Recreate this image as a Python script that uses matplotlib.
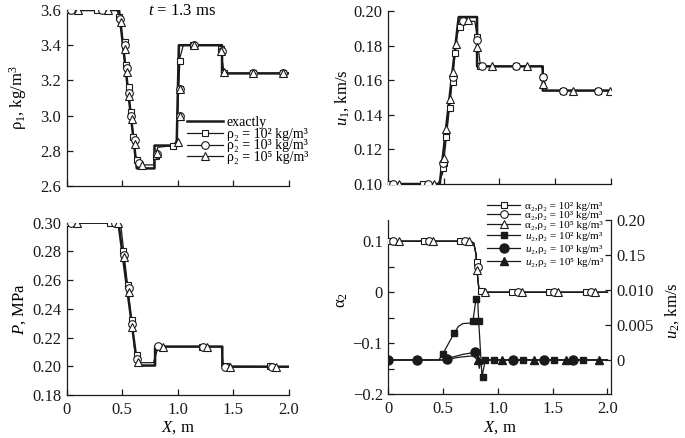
import matplotlib
matplotlib.use("Agg")
import matplotlib.pyplot as plt
from matplotlib.lines import Line2D

plt.rcParams['font.family'] = ['Liberation Serif', 'DejaVu Serif']
plt.rcParams['mathtext.fontset'] = 'custom'
plt.rcParams['mathtext.rm'] = 'Liberation Serif'
plt.rcParams['mathtext.it'] = 'Liberation Serif:italic'
plt.rcParams['mathtext.bf'] = 'Liberation Serif:bold'

# ---- rho1 panel ----
rho_exact_x = [0, 0.47, 0.63, 0.79, 0.79, 0.99, 1.01, 1.40, 1.40, 2.0]
rho_exact_y = [3.6, 3.6, 2.70, 2.70, 2.83, 2.83, 3.40, 3.40, 3.24, 3.24]
rho_num_x = [0, 0.45, 0.48, 0.62, 0.66, 0.78, 0.80, 0.82, 0.96, 0.99, 1.02, 1.05, 1.38, 1.40, 1.42, 2.0]
rho_num_y = [3.6, 3.6, 3.55, 2.76, 2.72, 2.72, 2.78, 2.82, 2.83, 2.86, 3.33, 3.40, 3.40, 3.32, 3.24, 3.24]
rho_sq_x = [0, 0.27, 0.47, 0.52, 0.535, 0.556, 0.577, 0.60, 0.63, 0.80, 0.96, 1.02, 1.02, 1.02, 1.14, 1.39, 1.42, 1.68, 1.95]
rho_sq_y = [3.6, 3.6, 3.56, 3.42, 3.29, 3.16, 3.02, 2.88, 2.75, 2.77, 2.83, 2.99, 3.15, 3.31, 3.40, 3.38, 3.24, 3.24, 3.24]
rho_ci_x = [0.04, 0.32, 0.48, 0.525, 0.54, 0.56, 0.58, 0.61, 0.65, 0.81, 1.02, 1.02, 1.15, 1.40, 1.68, 1.95]
rho_ci_y = [3.6, 3.6, 3.55, 3.40, 3.27, 3.13, 3.00, 2.86, 2.73, 2.78, 3.00, 3.15, 3.40, 3.37, 3.24, 3.24]
rho_tr_x = [0.10, 0.37, 0.49, 0.52, 0.54, 0.56, 0.585, 0.61, 0.68, 0.81, 1.00, 1.02, 1.02, 1.15, 1.39, 1.42, 1.68, 1.95]
rho_tr_y = [3.6, 3.6, 3.53, 3.38, 3.25, 3.11, 2.98, 2.84, 2.72, 2.79, 2.85, 3.00, 3.15, 3.40, 3.37, 3.25, 3.24, 3.24]

# ---- u1 panel ----
u1_exact_x = [0, 0.465, 0.635, 0.80, 0.80, 1.39, 1.39, 2.0]
u1_exact_y = [0.10, 0.10, 0.1965, 0.1965, 0.168, 0.168, 0.154, 0.154]
u1_num_x = [0, 0.45, 0.49, 0.62, 0.66, 0.78, 0.80, 0.83, 1.38, 1.40, 1.42, 2.0]
u1_num_y = [0.10, 0.10, 0.106, 0.186, 0.194, 0.194, 0.186, 0.168, 0.168, 0.162, 0.154, 0.154]
u1_sq_x = [0, 0.315, 0.49, 0.50, 0.525, 0.555, 0.58, 0.605, 0.645, 0.80, 0.83, 1.15, 1.39, 1.57, 1.89]
u1_sq_y = [0.10, 0.10, 0.109, 0.112, 0.127, 0.144, 0.159, 0.176, 0.191, 0.185, 0.168, 0.168, 0.162, 0.154, 0.154]
u1_ci_x = [0.045, 0.36, 0.495, 0.585, 0.67, 0.80, 0.84, 1.15, 1.39, 1.57, 1.89]
u1_ci_y = [0.10, 0.10, 0.112, 0.162, 0.194, 0.183, 0.168, 0.168, 0.162, 0.154, 0.154]
u1_tr_x = [0.10, 0.41, 0.50, 0.525, 0.555, 0.585, 0.61, 0.72, 0.80, 0.93, 1.245, 1.39, 1.665, 1.99]
u1_tr_y = [0.10, 0.10, 0.115, 0.132, 0.149, 0.165, 0.181, 0.1948, 0.179, 0.168, 0.168, 0.158, 0.154, 0.154]

# ---- P panel ----
p_exact_x = [0, 0.465, 0.635, 0.795, 0.795, 1.40, 1.40, 2.0]
p_exact_y = [0.30, 0.30, 0.2005, 0.2005, 0.2137, 0.2137, 0.1997, 0.1997]
p_num_x = [0, 0.44, 0.49, 0.62, 0.66, 0.78, 0.81, 0.83, 1.39, 1.41, 2.0]
p_num_y = [0.30, 0.30, 0.296, 0.206, 0.2025, 0.2025, 0.210, 0.2137, 0.2137, 0.2000, 0.1997]
p_sq_x = [0, 0.39, 0.51, 0.555, 0.585, 0.63, 0.825, 1.215, 1.43, 1.825]
p_sq_y = [0.30, 0.30, 0.2805, 0.2566, 0.2322, 0.2078, 0.2137, 0.2137, 0.200, 0.200]
p_ci_x = [0.04, 0.435, 0.516, 0.558, 0.588, 0.636, 0.825, 1.23, 1.425, 1.845]
p_ci_y = [0.30, 0.30, 0.2775, 0.2543, 0.2295, 0.2048, 0.214, 0.2137, 0.1997, 0.1997]
p_tr_x = [0.096, 0.465, 0.516, 0.558, 0.59, 0.645, 0.87, 1.265, 1.47, 1.883]
p_tr_y = [0.30, 0.30, 0.276, 0.2515, 0.2276, 0.2032, 0.2137, 0.2137, 0.1997, 0.1997]

# ---- alpha2 / u2 panel ----
a2_x = [0, 0.75, 0.78, 0.80, 0.815, 0.83, 2.0]
a2_y = [0.1, 0.1, 0.096, 0.075, 0.03, 0.0, 0.0]
a2_sq_x = [0, 0.33, 0.65, 0.81, 0.85, 1.13, 1.47, 1.80]
a2_sq_y = [0.1, 0.1, 0.1, 0.06, 0.003, 0, 0, 0]
a2_ci_x = [0.045, 0.37, 0.70, 0.82, 1.18, 1.51, 1.85]
a2_ci_y = [0.1, 0.1, 0.1, 0.05, 0, 0, 0]
a2_tr_x = [0.10, 0.41, 0.74, 0.81, 0.88, 1.22, 1.55, 1.89]
a2_tr_y = [0.1, 0.1, 0.1, 0.044, 0, 0, 0, 0]

u2_sq_line_x = [0, 0.46, 0.495, 0.60, 0.64, 0.68, 0.77, 0.80, 0.815, 0.825, 0.855, 0.885, 2.0]
u2_sq_line_y = [0, 0, 0.0008, 0.0038, 0.0048, 0.0052, 0.0053, 0.0087, 0.0087, 0.0055, -0.0024, 0, 0]
u2_ci_line_x = [0, 0.50, 0.56, 0.68, 0.795, 0.815, 0.83, 0.845, 2.0]
u2_ci_line_y = [0, 0, 0.0003, 0.0008, 0.0011, 0.0002, -0.0012, 0, 0]
u2_tr_line_x = [0, 0.50, 0.65, 0.78, 0.81, 2.0]
u2_tr_line_y = [0, 0, 0.0004, 0.0006, 0, 0]
u2_sq_x = [0, 0.495, 0.60, 0.774, 0.80, 0.825, 0.86, 0.885, 0.96, 1.23, 1.515, 1.78]
u2_sq_y = [0, 0.0008, 0.0038, 0.0055, 0.0087, 0.0055, -0.0024, 0, 0, 0, 0, 0]
u2_ci_x = [0, 0.265, 0.54, 0.795, 1.14, 1.42, 1.69]
u2_ci_y = [0, 0, 0.0001, 0.0011, 0, 0, 0]
u2_tr_x = [0.82, 1.04, 1.33, 1.62, 1.92]
u2_tr_y = [0, 0, 0, 0, 0]

x_ticks = [0, 0.5, 1.0, 1.5, 2.0]
x_labels = ['0', '0.5', '1.0', '1.5', '2.0']
u2_ticks = [0, 0.005, 0.010, 0.015, 0.020]
u2_labels = ['0', '0.005', '0.010', '0.15', '0.20']

lab_rho = ['ρ₂ = 10² kg/m³', 'ρ₂ = 10³ kg/m³', 'ρ₂ = 10⁵ kg/m³']
lab_a2 = ['α₂,ρ₂ = 10² kg/m³', 'α₂,ρ₂ = 10³ kg/m³', 'α₂,ρ₂ = 10⁵ kg/m³']
lab_u2 = ['$u$₂,ρ₂ = 10² kg/m³', '$u$₂,ρ₂ = 10³ kg/m³', '$u$₂,ρ₂ = 10⁵ kg/m³']

K = '#1a1a1a'
TS = 12
LS = 12
open_mk = [dict(marker='s', ms=5), dict(marker='o', ms=5.5), dict(marker='^', ms=5.5)]


def style(ax, spines):
    for s in ['top', 'right', 'left', 'bottom']:
        ax.spines[s].set_visible(s in spines)
        ax.spines[s].set_color(K)
        ax.spines[s].set_linewidth(0.9)
    ax.tick_params(direction='in', length=4, width=0.9, colors=K, labelsize=TS,
                   top=False, right=False, pad=4)
    ax.set_xlim(0, 2.0)
    ax.set_xticks(x_ticks)


def draw_panel(ax, ex, ey, nx, ny, marks):
    ax.plot(ex, ey, color=K, lw=1.8, zorder=2)
    ax.plot(nx, ny, color=K, lw=0.9, zorder=2)
    for (mx, my), mk in zip(marks, open_mk):
        ax.plot(mx, my, ls='none', mfc='white', mec=K, mew=0.8, zorder=3, **mk)


def ylab(ax, text, x, y=0.5):
    ax.set_ylabel(text, fontsize=LS)
    ax.yaxis.label.set_va('center')
    ax.yaxis.set_label_coords(x, y)


def xlab(ax, text, y):
    ax.set_xlabel(text, fontsize=LS)
    ax.xaxis.label.set_va('center')
    ax.xaxis.set_label_coords(0.5, y)


fig = plt.figure(figsize=(6.85, 4.38), dpi=100)

# top-left: rho1
ax1 = fig.add_axes([0.0978, 0.5753, 0.3234, 0.4018])
style(ax1, ['left', 'bottom'])
draw_panel(ax1, rho_exact_x, rho_exact_y, rho_num_x, rho_num_y,
           [(rho_sq_x, rho_sq_y), (rho_ci_x, rho_ci_y), (rho_tr_x, rho_tr_y)])
ax1.set_ylim(2.6, 3.6)
ax1.set_yticks([2.6, 2.8, 3.0, 3.2, 3.4, 3.6])
ax1.set_yticklabels(['2.6', '2.8', '3.0', '3.2', '3.4', '3.6'])
ax1.tick_params(labelbottom=False)
ylab(ax1, 'ρ$_1$, kg/m$^3$', -0.22)
h1 = [Line2D([], [], color=K, lw=1.8)]
for mk in open_mk:
    h1.append(Line2D([], [], color=K, lw=0.9, mfc='white', mec=K, mew=0.8, **mk))
ax1.legend(h1, ['exactly'] + lab_rho, loc='upper left', bbox_to_anchor=(0.54, 0.40),
           frameon=False, fontsize=10, labelspacing=-0.08, handlelength=2.6,
           handletextpad=0.3, borderpad=0, borderaxespad=0)
fig.text(182 / 685, 1 - 11 / 438, '$t$ = 1.3 ms', ha='center', va='center', fontsize=12)

# top-right: u1
ax2 = fig.add_axes([0.5664, 0.5799, 0.3251, 0.3950])
style(ax2, ['left', 'bottom'])
draw_panel(ax2, u1_exact_x, u1_exact_y, u1_num_x, u1_num_y,
           [(u1_sq_x, u1_sq_y), (u1_ci_x, u1_ci_y), (u1_tr_x, u1_tr_y)])
ax2.set_ylim(0.10, 0.20)
ax2.set_yticks([0.10, 0.12, 0.14, 0.16, 0.18, 0.20])
ax2.set_yticklabels(['0.10', '0.12', '0.14', '0.16', '0.18', '0.20'])
ax2.tick_params(labelbottom=False)
ylab(ax2, '$u_1$, km/s', -0.205)

# bottom-left: P
ax3 = fig.add_axes([0.0974, 0.0982, 0.3245, 0.3934])
style(ax3, ['left', 'bottom'])
draw_panel(ax3, p_exact_x, p_exact_y, p_num_x, p_num_y,
           [(p_sq_x, p_sq_y), (p_ci_x, p_ci_y), (p_tr_x, p_tr_y)])
ax3.set_ylim(0.18, 0.30)
ax3.set_yticks([0.18, 0.20, 0.22, 0.24, 0.26, 0.28, 0.30])
ax3.set_yticklabels(['0.18', '0.20', '0.22', '0.24', '0.26', '0.28', '0.30'])
ax3.set_xticklabels(x_labels)
ax3.tick_params(axis='x', pad=5)
ylab(ax3, '$P$, MPa', -0.21)
xlab(ax3, '$X$, m', -0.19)

# bottom-right: alpha2 and u2
ax4 = fig.add_axes([0.5669, 0.0998, 0.3247, 0.3980])
style(ax4, ['left', 'bottom'])
ax4.set_xlim(0, 2.03)
ax4r = ax4.twinx()
for s in ['top', 'left', 'bottom']:
    ax4r.spines[s].set_visible(False)
ax4r.spines['right'].set_color(K)
ax4r.spines['right'].set_linewidth(0.9)
ax4r.tick_params(direction='in', length=4, width=0.9, colors=K, labelsize=TS, pad=4)

ha = []
for (mx, my), mk in zip([(a2_sq_x, a2_sq_y), (a2_ci_x, a2_ci_y), (a2_tr_x, a2_tr_y)], open_mk):
    ax4.plot(a2_x, a2_y, color=K, lw=0.9, zorder=2)
    ax4.plot(mx, my, ls='none', mfc='white', mec=K, mew=0.8, zorder=3, **mk)
    ha.append(Line2D([], [], color=K, lw=0.9, mfc='white', mec=K, mew=0.8, **mk))
filled_mk = [dict(marker='s', ms=5), dict(marker='o', ms=6.5), dict(marker='^', ms=6)]
u2_lines = [(u2_sq_line_x, u2_sq_line_y), (u2_ci_line_x, u2_ci_line_y), (u2_tr_line_x, u2_tr_line_y)]
u2_marks = [(u2_sq_x, u2_sq_y), (u2_ci_x, u2_ci_y), (u2_tr_x, u2_tr_y)]
for (lx, ly), (mx, my), mk in zip(u2_lines, u2_marks, filled_mk):
    ax4r.plot(lx, ly, color=K, lw=0.9, zorder=2)
    ax4r.plot(mx, my, ls='none', mfc=K, mec=K, zorder=3, **mk)
    ha.append(Line2D([], [], color=K, lw=0.9, mfc=K, mec=K, **mk))

ax4.set_ylim(-0.2, 0.1416)
ax4.set_yticks([-0.2, -0.1, 0, 0.1])
ax4.set_yticklabels(['\u22120.2', '\u22120.1', '0', '0.1'])
ax4.set_yticks([-0.15, -0.05, 0.05], minor=True)
ax4.tick_params(axis='y', which='minor', direction='in', length=4, width=0.9, colors=K)
ax4.set_xticklabels(x_labels)
ax4.tick_params(axis='x', pad=5)
ylab(ax4, 'α$_2$', -0.21, 0.54)
xlab(ax4, '$X$, m', -0.19)
ax4r.set_ylim(-0.0049, 0.0200)
ax4r.set_yticks(u2_ticks)
ax4r.set_yticklabels(u2_labels)
ylab(ax4r, '$u_2$, km/s', 1.275, 0.48)
ax4.legend(ha, lab_a2 + lab_u2, loc='upper left', bbox_to_anchor=(0.444, 1.11),
           frameon=False, fontsize=8, labelspacing=0.0, handlelength=3.0,
           handletextpad=0.4, borderpad=0, borderaxespad=0)
ax4r.set_zorder(ax4.get_zorder() + 1)
ax4r.patch.set_visible(False)

fig.savefig('out.png', dpi=100)
